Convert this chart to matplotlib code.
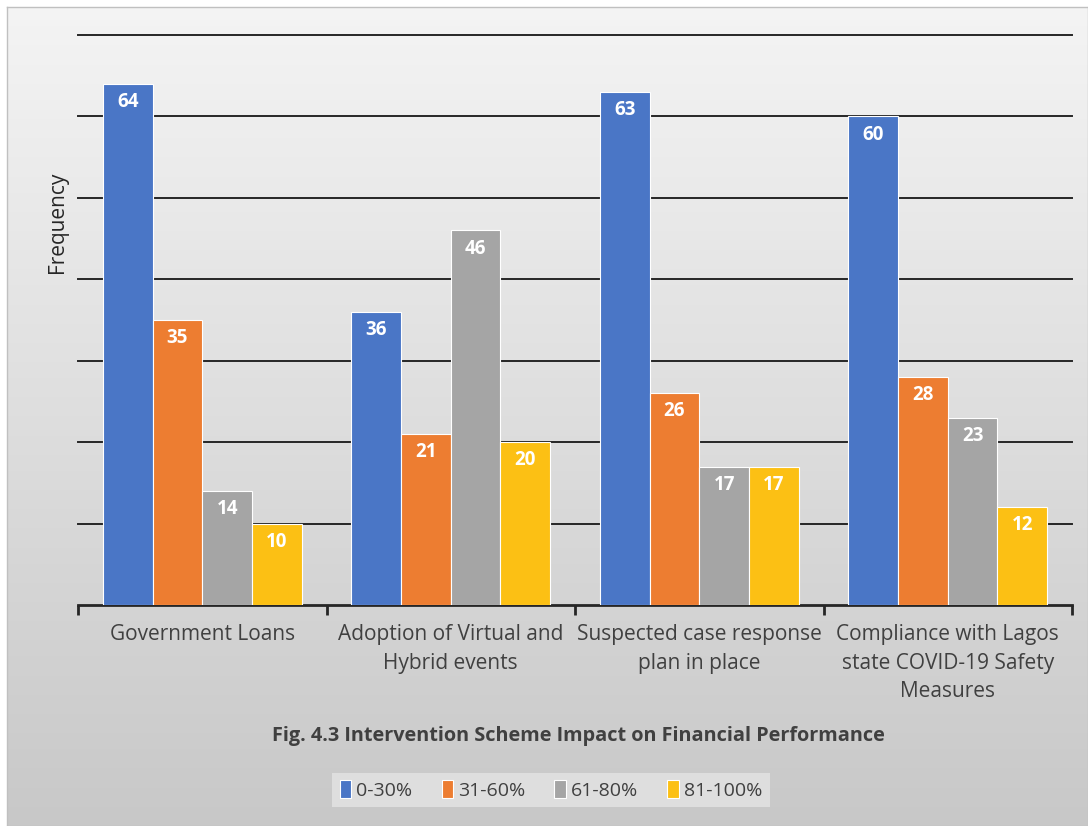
import numpy as np
from matplotlib import pyplot as plt

categories = ["Government Loans",
              "Adoption of Virtual and\nHybrid events",
              "Suspected case response\nplan in place",
              "Compliance with Lagos\nstate COVID-19 Safety\nMeasures"]
series = ["0-30%", "31-60%", "61-80%", "81-100%"]
v_0_30 = [64, 36, 63, 60]
v_31_60 = [35, 21, 26, 28]
v_61_80 = [14, 46, 17, 23]
v_81_100 = [10, 20, 17, 12]
values = [v_0_30, v_31_60, v_61_80, v_81_100]
colors = ["#4a76c6", "#ed7d31", "#a5a5a5", "#fcc014"]

plt.rcParams['font.family'] = ['Open Sans', 'DejaVu Sans']

fig = plt.figure(figsize=(10.88, 8.26), dpi=100)
fig.patch.set_facecolor("white")

# background gradient panel with thin border
bg = fig.add_axes([7/1088, 0, 1 - 7/1088, 1 - 7/826], zorder=-10)
grad = np.linspace(0, 1, 256).reshape(-1, 1)
bg.imshow(grad, aspect='auto', cmap=plt.matplotlib.colors.LinearSegmentedColormap.from_list(
    "g", ["#f4f4f4", "#c8c8c8"]), extent=[0, 1, 0, 1], origin='upper')
bg.set_xticks([])
bg.set_yticks([])
for s in bg.spines.values():
    s.set_color("#c0c0c0")
    s.set_linewidth(1)

ax = fig.add_axes([78/1088, 1 - 605/826, (1072 - 78)/1088, (605 - 35)/826])
ax.set_facecolor("none")

x = np.arange(len(categories)) + 0.5
w = 0.2
for i, (name, vals) in enumerate(zip(series, values)):
    pos = x + (i - 1.5) * w
    bars = ax.bar(pos, vals, width=w, color=colors[i], edgecolor="white",
                  linewidth=0.8, label=name, zorder=3)
    for b, v in zip(bars, vals):
        ax.text(b.get_x() + b.get_width()/2, v - 1.0, str(v), ha="center", va="top",
                color="white", fontsize=13.5, fontweight="bold", zorder=4)

ax.set_xlim(0, 4)
ax.set_ylim(0, 70)
ax.set_yticks(np.arange(10, 71, 10))
ax.yaxis.grid(True, color="#262626", linewidth=1.4, zorder=0)
ax.tick_params(axis="y", left=False, labelleft=False)
for g in ax.get_ygridlines():
    g.set_clip_on(False)

ax.set_xticks([0, 1, 2, 3, 4])
ax.set_xticklabels([])
ax.set_xticks(x, minor=True)
ax.set_xticklabels(categories, minor=True, fontsize=15, color="#404040",
                   linespacing=1.45, va="top")
ax.tick_params(axis="x", which="major", direction="out", length=7, width=2, color="#262626")
ax.tick_params(axis="x", which="minor", length=0, pad=14)

for s in ["top", "right", "left"]:
    ax.spines[s].set_visible(False)
ax.spines["bottom"].set_color("#262626")
ax.spines["bottom"].set_linewidth(2)

fig.text(58/1088, 1 - 222/826, "Frequency", rotation=90, ha="center", va="center",
         fontsize=15, color="#262626")
fig.text(578/1088, 1 - 736/826, "Fig. 4.3 Intervention Scheme Impact on Financial Performance",
         ha="center", va="center", fontsize=14.3, fontweight="bold", color="#404040")

leg = fig.legend(loc="center", bbox_to_anchor=(551/1088, 1 - 790/826), ncol=4, frameon=True,
                 fontsize=14, handlelength=0.6, handleheight=1.0, handletextpad=0.25,
                 columnspacing=1.5, borderpad=0.4, fancybox=False)
leg.get_frame().set_facecolor("#e4e4e4")
leg.get_frame().set_edgecolor("none")
for t in leg.get_texts():
    t.set_color("#404040")

fig.savefig("out.png", dpi=100)
